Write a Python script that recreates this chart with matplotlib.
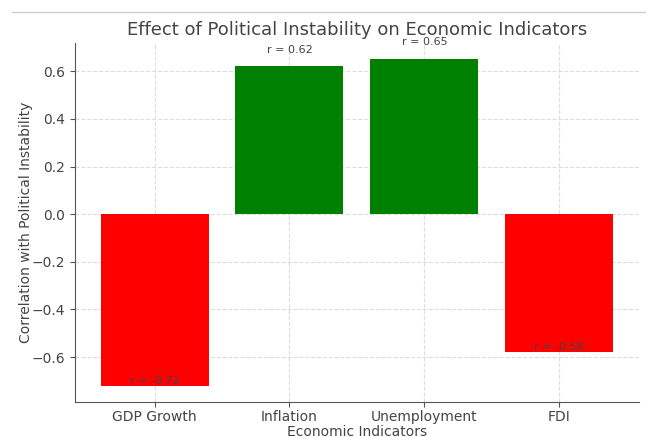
import matplotlib
matplotlib.use('Agg')
import matplotlib.pyplot as plt
from matplotlib.lines import Line2D

# correlation of each indicator with political instability
indicators = ['GDP Growth', 'Inflation', 'Unemployment', 'FDI']
correlations = [-0.72, 0.62, 0.65, -0.58]

text_color = '#444444'
plt.rcParams['font.family'] = 'DejaVu Sans'

fig = plt.figure(figsize=(6.46, 4.37), dpi=100)
ax = fig.add_axes([0.116, 0.080, 0.873, 0.8216])

colors = ['green' if c > 0 else 'red' for c in correlations]
bars = ax.bar(indicators, correlations, color=colors, width=0.8, zorder=2)

# r labels: above positive bars, inside the bottom of negative bars
for bar, c in zip(bars, correlations):
    x = bar.get_x() + bar.get_width() / 2
    y = c + 0.05 if c > 0 else c
    ax.text(x, y, 'r = %.2f' % c, ha='center', va='bottom', fontsize=8,
            color=text_color, zorder=3)

ax.set_title('Effect of Political Instability on Economic Indicators',
             fontsize=13, color=text_color, pad=6)
ax.set_xlabel('Economic Indicators', fontsize=10, color=text_color, labelpad=1)
ax.set_ylabel('Correlation with Political Instability', fontsize=10,
              color=text_color, labelpad=-1)
ax.set_yticks([-0.6, -0.4, -0.2, 0.0, 0.2, 0.4, 0.6])
ax.tick_params(labelsize=10, labelcolor=text_color, color='#555555')
ax.tick_params(axis='x', pad=2)
ax.grid(True, linestyle='--', color='#dddddd', linewidth=0.8, zorder=0)

for side in ['top', 'right']:
    ax.spines[side].set_visible(False)
for side in ['left', 'bottom']:
    ax.spines[side].set_color('#555555')

# thin frame line at the very top of the picture
fig.add_artist(Line2D([12 / 646, 1.0], [1 - 12 / 437, 1 - 12 / 437],
                      color='#cccccc', linewidth=1))

fig.savefig('out.png', dpi=100)
